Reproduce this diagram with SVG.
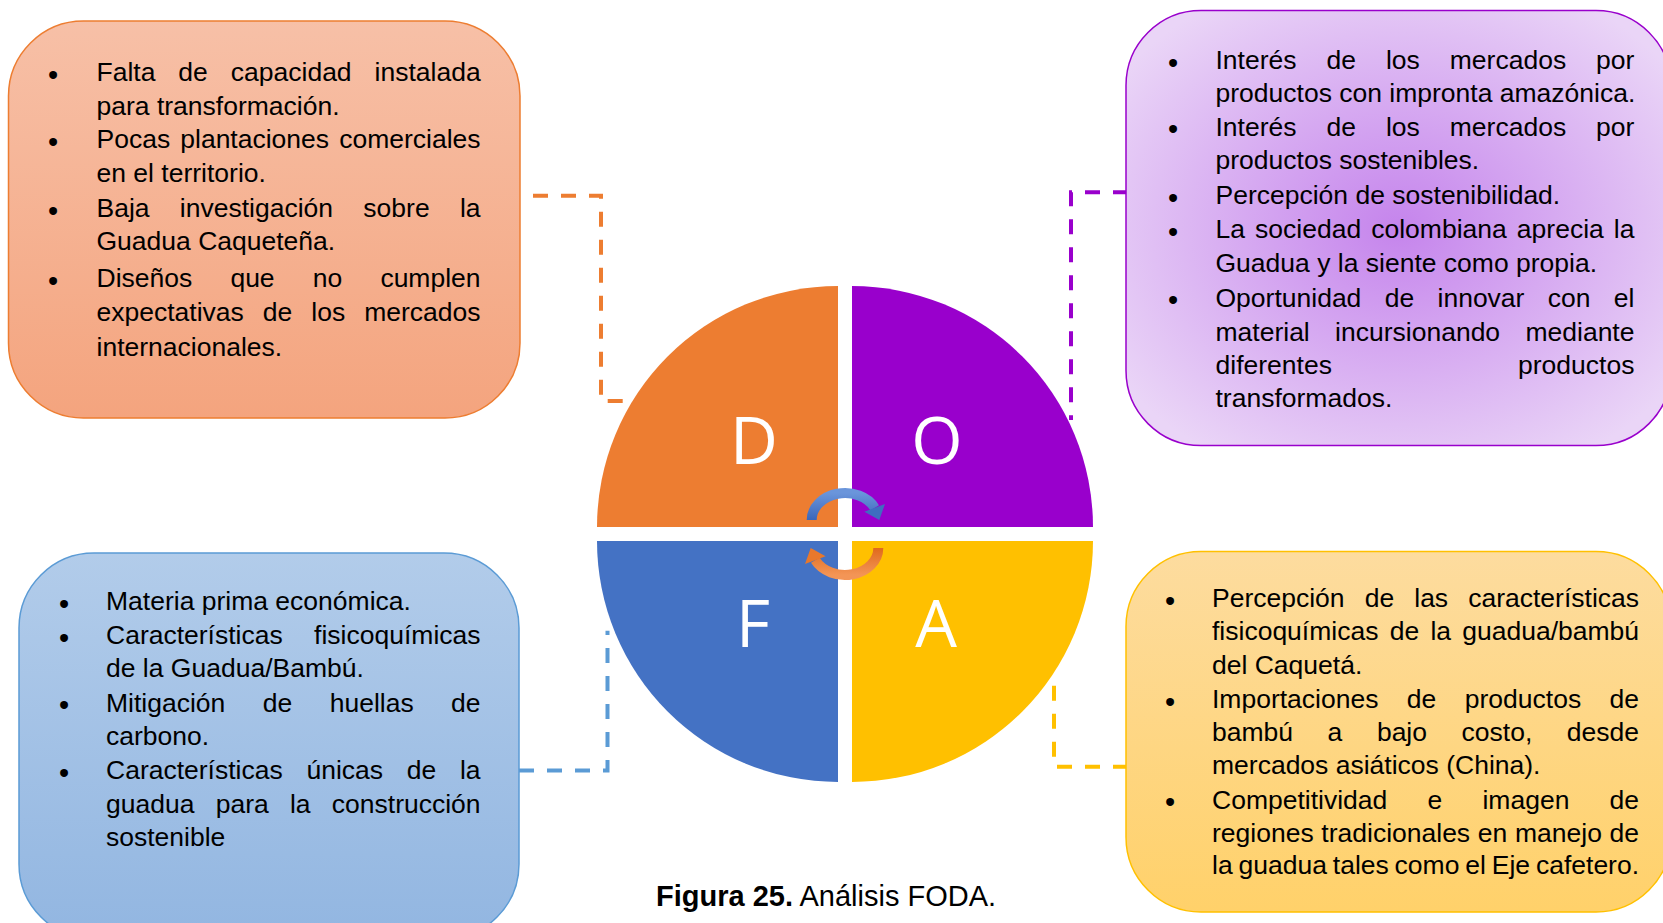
<svg xmlns="http://www.w3.org/2000/svg" width="1663" height="923" viewBox="0 0 1663 923">
<defs>
<linearGradient id="gD" x1="0" y1="0" x2="0" y2="1"><stop offset="0" stop-color="#F7C0A7"/><stop offset="1" stop-color="#F4A47E"/></linearGradient>
<radialGradient id="gO" cx="0.5" cy="0.5" r="0.62"><stop offset="0" stop-color="#C584EC"/><stop offset="1" stop-color="#EAD5F7"/></radialGradient>
<linearGradient id="gF" x1="0" y1="0" x2="0" y2="1"><stop offset="0" stop-color="#B2CCEA"/><stop offset="1" stop-color="#92B6E1"/></linearGradient>
<linearGradient id="gA" x1="0" y1="0" x2="0" y2="1"><stop offset="0" stop-color="#FDDC9F"/><stop offset="1" stop-color="#FFD16A"/></linearGradient>
<linearGradient id="gArrB" x1="0" y1="0" x2="0" y2="1"><stop offset="0" stop-color="#6A95DB"/><stop offset="1" stop-color="#3A66BA"/></linearGradient>
<linearGradient id="gArrO" x1="0" y1="0" x2="0" y2="1"><stop offset="0" stop-color="#F39556"/><stop offset="1" stop-color="#E06A1C"/></linearGradient>
</defs>
<style>
.t{font-family:"Liberation Sans",Arial,sans-serif;font-size:26.5px;fill:#000;font-kerning:none}
.bl{font-family:"Liberation Sans",Arial,sans-serif;font-size:29px;fill:#000;text-anchor:middle}
.q{font-family:"Open Sans","Noto Sans",sans-serif;font-size:66px;fill:#fff;text-anchor:middle}
.dash{fill:none;stroke-width:4;stroke-dasharray:15 13}
.cap{font-family:"Liberation Sans",Arial,sans-serif;font-size:29px;fill:#000}
</style>

<g id="connectors">
<path class="dash" stroke="#ED7D31" d="M533 195.7 H601 V401 H624"/>
<path class="dash" stroke="#9900CC" d="M1128 192.3 H1071 V420"/>
<path class="dash" stroke="#5B9BD5" d="M519 770.5 H607.5 V630.7"/>
<path class="dash" stroke="#FFC000" d="M1128 766.7 H1054 V673"/>
</g>

<g id="box-debilidades">
<rect x="8.5" y="21" width="511.5" height="397" rx="75" fill="url(#gD)" stroke="#ED7D31" stroke-width="1.5"/>
<text class="bl" x="53" y="84.8">•</text>
<text class="bl" x="53" y="152.1">•</text>
<text class="bl" x="53" y="220.5">•</text>
<text class="bl" x="53" y="290.5">•</text>
<text class="t" x="96.5" y="81" style="word-spacing:15.59px">Falta de capacidad instalada</text>
<text class="t" x="96.5" y="115">para transformación.</text>
<text class="t" x="96.5" y="148.3" style="word-spacing:2.75px">Pocas plantaciones comerciales</text>
<text class="t" x="96.5" y="181.7">en el territorio.</text>
<text class="t" x="96.5" y="216.7" style="word-spacing:22.93px">Baja investigación sobre la</text>
<text class="t" x="96.5" y="250">Guadua Caqueteña.</text>
<text class="t" x="96.5" y="286.7" style="word-spacing:30.79px">Diseños que no cumplen</text>
<text class="t" x="96.5" y="321" style="word-spacing:11.64px">expectativas de los mercados</text>
<text class="t" x="96.5" y="356">internacionales.</text>
</g>

<g id="box-oportunidades">
<rect x="1126" y="10.6" width="545" height="435" rx="75" fill="url(#gO)" stroke="#9900CC" stroke-width="1.5"/>
<text class="bl" x="1173" y="72.8">•</text>
<text class="bl" x="1173" y="139.3">•</text>
<text class="bl" x="1173" y="207.8">•</text>
<text class="bl" x="1173" y="241.8">•</text>
<text class="bl" x="1173" y="310.3">•</text>
<text class="t" x="1215.5" y="69" style="word-spacing:22.61px">Interés de los mercados por</text>
<text class="t" x="1215.5" y="102">productos con impronta amazónica.</text>
<text class="t" x="1215.5" y="135.5" style="word-spacing:22.61px">Interés de los mercados por</text>
<text class="t" x="1215.5" y="169">productos sostenibles.</text>
<text class="t" x="1215.5" y="204">Percepción de sostenibilidad.</text>
<text class="t" x="1215.5" y="238" style="word-spacing:2.73px">La sociedad colombiana aprecia la</text>
<text class="t" x="1215.5" y="271.5">Guadua y la siente como propia.</text>
<text class="t" x="1215.5" y="306.5" style="word-spacing:15.98px">Oportunidad de innovar con el</text>
<text class="t" x="1215.5" y="340.5" style="word-spacing:17.99px">material incursionando mediante</text>
<text class="t" x="1215.5" y="373.5" style="word-spacing:178.8px">diferentes productos</text>
<text class="t" x="1215.5" y="407">transformados.</text>
</g>

<g id="box-fortalezas">
<rect x="19" y="553" width="500" height="386" rx="75" fill="url(#gF)" stroke="#5B9BD5" stroke-width="1.5"/>
<text class="bl" x="64" y="613.8">•</text>
<text class="bl" x="64" y="647.8">•</text>
<text class="bl" x="64" y="715.3">•</text>
<text class="bl" x="64" y="782.8">•</text>
<text class="t" x="106" y="610">Materia prima económica.</text>
<text class="t" x="106" y="644" style="word-spacing:24.04px">Características fisicoquímicas</text>
<text class="t" x="106" y="677">de la Guadua/Bambú.</text>
<text class="t" x="106" y="711.5" style="word-spacing:30.08px">Mitigación de huellas de</text>
<text class="t" x="106" y="745">carbono.</text>
<text class="t" x="106" y="779" style="word-spacing:16.34px">Características únicas de la</text>
<text class="t" x="106" y="812.7" style="word-spacing:13.87px">guadua para la construcción</text>
<text class="t" x="106" y="846">sostenible</text>
</g>

<g id="box-amenazas">
<rect x="1126" y="551.5" width="545" height="360.5" rx="75" fill="url(#gA)" stroke="#FFC000" stroke-width="1.5"/>
<text class="bl" x="1170" y="610.8">•</text>
<text class="bl" x="1170" y="712.1">•</text>
<text class="bl" x="1170" y="812.3">•</text>
<text class="t" x="1212" y="607" style="word-spacing:12.73px">Percepción de las características</text>
<text class="t" x="1212" y="640.3" style="word-spacing:3.88px">fisicoquímicas de la guadua/bambú</text>
<text class="t" x="1212" y="673.6">del Caquetá.</text>
<text class="t" x="1212" y="708.3" style="word-spacing:21.06px">Importaciones de productos de</text>
<text class="t" x="1212" y="741.3" style="word-spacing:27.2px">bambú a bajo costo, desde</text>
<text class="t" x="1212" y="774">mercados asiáticos (China).</text>
<text class="t" x="1212" y="808.5" style="word-spacing:32.86px">Competitividad e imagen de</text>
<text class="t" x="1212" y="841.7" style="word-spacing:0.33px">regiones tradicionales en manejo de</text>
<text class="t" x="1212" y="874.3" style="word-spacing:-1.5px">la guadua tales como el Eje cafetero.</text>
</g>

<g id="foda-circle">
<path d="M838 527 H597 A241 241 0 0 1 838 286 Z" fill="#ED7D31"/>
<path d="M852 527 V286 A241 241 0 0 1 1093 527 Z" fill="#9900CC"/>
<path d="M838 541 V782 A241 241 0 0 1 597 541 Z" fill="#4472C4"/>
<path d="M852 541 H1093 A241 241 0 0 1 852 782 Z" fill="#FFC000"/>
<text class="q" x="754" y="464">D</text>
<text class="q" x="937" y="464">O</text>
<text class="q" x="753" y="647">F</text>
<text class="q" x="936" y="647">A</text>
</g>

<g id="cycle-arrows">
<g id="arrow-blue">
<path d="M811.7 520 A33.3 27 0 0 1 874.7 507.8" fill="none" stroke="url(#gArrB)" stroke-width="10"/>
<polygon points="885,503.9 864.4,511.7 879.3,520" fill="#3F6DC0"/>
</g>
<g id="arrow-orange" transform="rotate(180 845 534)">
<path d="M811.7 520 A33.3 27 0 0 1 874.7 507.8" fill="none" stroke="url(#gArrO)" stroke-width="10"/>
<polygon points="885,503.9 864.4,511.7 879.3,520" fill="#E8782C"/>
</g>
</g>

<g id="caption">
<text class="cap" x="656" y="906"><tspan font-weight="bold">Figura 25.</tspan> Análisis FODA.</text>
</g>
</svg>
